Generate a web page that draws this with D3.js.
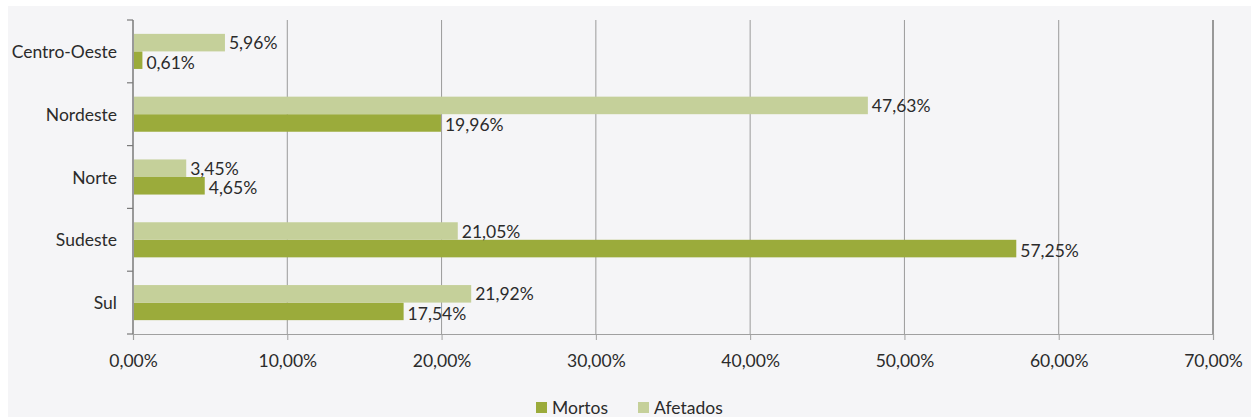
<!DOCTYPE html>
<html>
<head>
<meta charset="utf-8">
<script src="https://cdn.jsdelivr.net/npm/d3@7"></script>
<style>
  html, body { margin: 0; padding: 0; background: #ffffff; }
  svg { display: block; }
  text { font-family: Lato, "Open Sans", sans-serif; fill: #2b2b2b; }
</style>
</head>
<body>
<svg id="chart" width="1251" height="417"></svg>
<script>
// Regional share of deaths and affected people
const regions  = ["Centro-Oeste", "Nordeste", "Norte", "Sudeste", "Sul"];
const mortos   = [0.61, 19.96, 4.65, 57.25, 17.54];
const afetados = [5.96, 47.63, 3.45, 21.05, 21.92];
const xTicks   = [0, 10, 20, 30, 40, 50, 60, 70];
const seriesNames = ["Mortos", "Afetados"];
const seriesColors = { Mortos: "#9bab3b", Afetados: "#c5d09a" };

const FS = 17.5;
const svg = d3.select("#chart");
const W = 1251, H = 417;
const margin = { left: 133, right: 38, top: 20, bottom: 83 };

// panel background
svg.append("rect").attr("x", 8).attr("y", 6).attr("width", W - 8).attr("height", H - 6)
  .attr("fill", "#f5f5f7");

const fmt = v => v.toFixed(2).replace(".", ",") + "%";

const x = d3.scaleLinear().domain([0, 70]).range([margin.left, W - margin.right]);
const y = d3.scaleBand().domain(regions).range([margin.top, H - margin.bottom]);
const sub = d3.scaleBand().domain(["Afetados", "Mortos"])
  .range([0, y.bandwidth()]).paddingOuter(0.79).paddingInner(0);

// vertical gridlines
svg.append("g").selectAll("line").data(xTicks.slice(1)).join("line")
  .attr("x1", d => x(d)).attr("x2", d => x(d))
  .attr("y1", margin.top).attr("y2", H - margin.bottom)
  .attr("stroke", d => d === 70 ? "#7a7a7a" : "#9a9a9a").attr("stroke-width", d => d === 70 ? 1.5 : 1);

// bottom axis
const xAxis = d3.axisBottom(x).tickValues(xTicks).tickSize(6).tickPadding(15)
  .tickFormat(d => fmt(d));
const gx = svg.append("g").attr("transform", `translate(0,${H - margin.bottom})`).call(xAxis);
gx.select(".domain").attr("stroke", "#a0a0a0").attr("stroke-width", 1.2);
gx.selectAll(".tick line").attr("stroke", "#a0a0a0");
gx.selectAll(".tick text").attr("font-size", FS).attr("fill", "#2b2b2b")
  .style("font-family", "Lato, sans-serif");

// left axis: ticks sit on category boundaries
const boundaries = d3.range(regions.length + 1).map(i => margin.top + i * y.step());
const gy = svg.append("g");
gy.append("line").attr("x1", margin.left).attr("x2", margin.left)
  .attr("y1", margin.top).attr("y2", H - margin.bottom)
  .attr("stroke", "#7a7a7a").attr("stroke-width", 1.5);
gy.selectAll("line.tk").data(boundaries).join("line").attr("class", "tk")
  .attr("x1", margin.left - 6).attr("x2", margin.left)
  .attr("y1", d => d).attr("y2", d => d)
  .attr("stroke", "#7a7a7a").attr("stroke-width", 1.2);
gy.selectAll("text").data(regions).join("text")
  .attr("x", margin.left - 16).attr("y", d => y(d) + y.bandwidth() / 2)
  .attr("text-anchor", "end").attr("dominant-baseline", "central")
  .attr("font-size", FS).text(d => d);

// bars
const rows = regions.map((r, i) => ({ region: r, Mortos: mortos[i], Afetados: afetados[i] }));
const bars = [];
rows.forEach(r => seriesNames.forEach(s => bars.push({ region: r.region, series: s, value: r[s] })));

svg.append("g").selectAll("rect").data(bars).join("rect")
  .attr("x", x(0) + 1)
  .attr("y", d => y(d.region) + sub(d.series))
  .attr("width", d => x(d.value) - x(0) - 1)
  .attr("height", sub.bandwidth())
  .attr("fill", d => seriesColors[d.series]);

// value labels
svg.append("g").selectAll("text").data(bars).join("text")
  .attr("x", d => x(d.value) + 4)
  .attr("y", d => y(d.region) + sub(d.series) + sub.bandwidth() / 2 + (d.series === "Mortos" ? 2 : 0))
  .attr("dominant-baseline", "central")
  .attr("font-size", FS).text(d => fmt(d.value));

// legend
const legend = svg.append("g").attr("transform", "translate(0,407)");
const legendX = { Mortos: 536, Afetados: 638 };
seriesNames.forEach(s => {
  legend.append("rect").attr("x", legendX[s]).attr("y", -5).attr("width", 11).attr("height", 11)
    .attr("fill", seriesColors[s]);
  legend.append("text").attr("x", legendX[s] + 16).attr("y", 0)
    .attr("dominant-baseline", "central").attr("font-size", FS).text(s);
});
</script>
</body>
</html>
